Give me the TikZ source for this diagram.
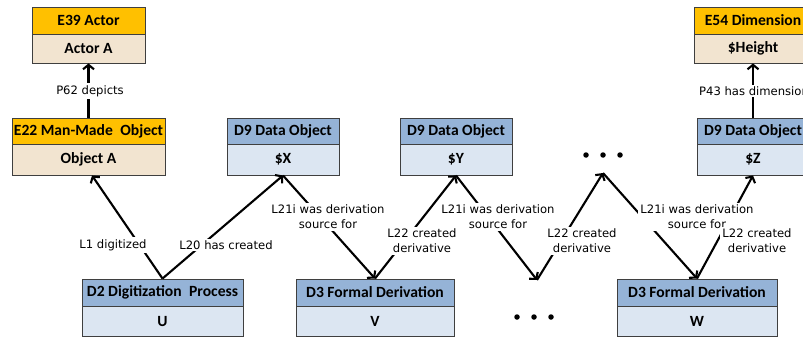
\documentclass[tikz,border=0pt]{standalone}
\usepackage{fontspec}
\setmainfont{Carlito}
\newfontfamily\labelfont{DejaVu Sans}
\usetikzlibrary{arrows.meta}

\definecolor{hdrOrange}{HTML}{FFC000}
\definecolor{bodyTan}{HTML}{F2E4D0}
\definecolor{hdrBlue}{HTML}{95B3D7}
\definecolor{bodyBlue}{HTML}{DCE6F2}
\definecolor{edgeGray}{HTML}{3F3F3F}

\tikzset{
  cell/.style={draw=edgeGray, line width=0.9pt, inner sep=0pt,
    font=\bfseries\fontsize{15.6}{17}\selectfont, text=black},
  ehead/.style={cell, fill=hdrOrange},
  ebody/.style={cell, fill=bodyTan},
  dhead/.style={cell, fill=hdrBlue},
  dbody/.style={cell, fill=bodyBlue},
  link/.style={line width=2.1pt, -{Straight Barb[length=4.5pt,width=11pt]}},
  tag/.style={fill=white, inner sep=2pt, align=center,
    font=\labelfont\fontsize{11.6}{15}\selectfont},
  dot/.style={circle, fill=black, inner sep=0pt, minimum size=5.5pt},
}

\begin{document}
\begin{tikzpicture}[x=1pt, y=-1pt]
\clip (0,0) rectangle (803,337);

% --- CIDOC-CRM entities (orange) ---
\node[ehead, minimum width=113pt, minimum height=27pt] (e39h) at (88.5,20.5) {E39 Actor};
\node[ebody, minimum width=113pt, minimum height=29pt] (e39b) at (88.5,48.5) {Actor A};

\node[ehead, minimum width=153pt, minimum height=26pt] (e22h) at (88.5,131) {E22 Man-Made\hspace{4pt} Object};
\node[ebody, minimum width=153pt, minimum height=31pt] (e22b) at (88.5,159.5) {Object A};

\node[ehead, minimum width=118pt, minimum height=27pt] (e54h) at (753,20.5) {E54 Dimension};
\node[ebody, minimum width=118pt, minimum height=29pt] (e54b) at (753,48.5) {\$Height};

% --- data objects (blue) ---
\node[dhead, minimum width=112pt, minimum height=26pt] (xh) at (283,131) {D9 Data Object};
\node[dbody, minimum width=112pt, minimum height=31pt] (xb) at (283,159.5) {\$X};

\node[dhead, minimum width=112pt, minimum height=26pt] (yh) at (456,131) {D9 Data Object};
\node[dbody, minimum width=112pt, minimum height=31pt] (yb) at (456,159.5) {\$Y};

\node[dhead, minimum width=112pt, minimum height=26pt] (zh) at (753,131) {D9 Data Object};
\node[dbody, minimum width=112pt, minimum height=31pt] (zb) at (753,159.5) {\$Z};

% --- processes (blue) ---
\node[dhead, minimum width=161pt, minimum height=27pt] (d2h) at (162.5,292.5) {D2 Digitization\hspace{4pt} Process};
\node[dbody, minimum width=161pt, minimum height=30pt] (d2b) at (162.5,321) {U};

\node[dhead, minimum width=158pt, minimum height=27pt] (vh) at (375,292.5) {D3 Formal Derivation};
\node[dbody, minimum width=158pt, minimum height=30pt] (vb) at (375,321) {V};

\node[dhead, minimum width=160pt, minimum height=27pt] (wh) at (697,292.5) {D3 Formal Derivation};
\node[dbody, minimum width=160pt, minimum height=30pt] (wb) at (697,321) {W};

% --- elided chain members ---
\node[dot] (dt1) at (586,155) {};
\node[dot] (dt2) at (603,155) {};
\node[dot] (dt3) at (620,155) {};
\coordinate (dotsTop) at (603,173);

\node[dot] (db1) at (517,317) {};
\node[dot] (db2) at (534,317) {};
\node[dot] (db3) at (551,317) {};
\coordinate (dotsBot) at (537,280);

% --- relations ---
\draw[link] (e22h.north) -- (e39b.south);
\draw[link] (zh.north) -- (e54b.south);
\draw[link] (d2h.north) -- ([xshift=3.5pt]e22b.south);
\draw[link] (d2h.north) -- (xb.south);
\draw[link] (xb.south) -- (vh.north);
\draw[link] (vh.north) -- (yb.south);
\draw[link] (yb.south) -- (dotsBot);
\draw[link] (dotsBot) -- (dotsTop);
\draw[link] (dotsTop) -- (wh.north);
\draw[link] (wh.north) -- (zb.south);

% --- relation labels ---
\node[tag] (p62) at (90,91) {P62 depicts};
\node[tag] (p43) at (754,91) {P43 has dimension};
\node[tag] (l1) at (113,245) {L1 digitized};
\node[tag] (l20) at (226,245) {L20 has created};
\node[tag] (l21a) at (328,217) {L21i was derivation\\source for};
\node[tag] (l21b) at (498,217) {L21i was derivation\\source for};
\node[tag] (l21c) at (697,217) {L21i was derivation\\source for};
\node[tag] (l22a) at (422,241) {L22 created\\derivative};
\node[tag] (l22b) at (582,241) {L22 created\\derivative};
\node[tag] (l22c) at (757,241) {L22 created\\derivative};
\end{tikzpicture}
\end{document}
